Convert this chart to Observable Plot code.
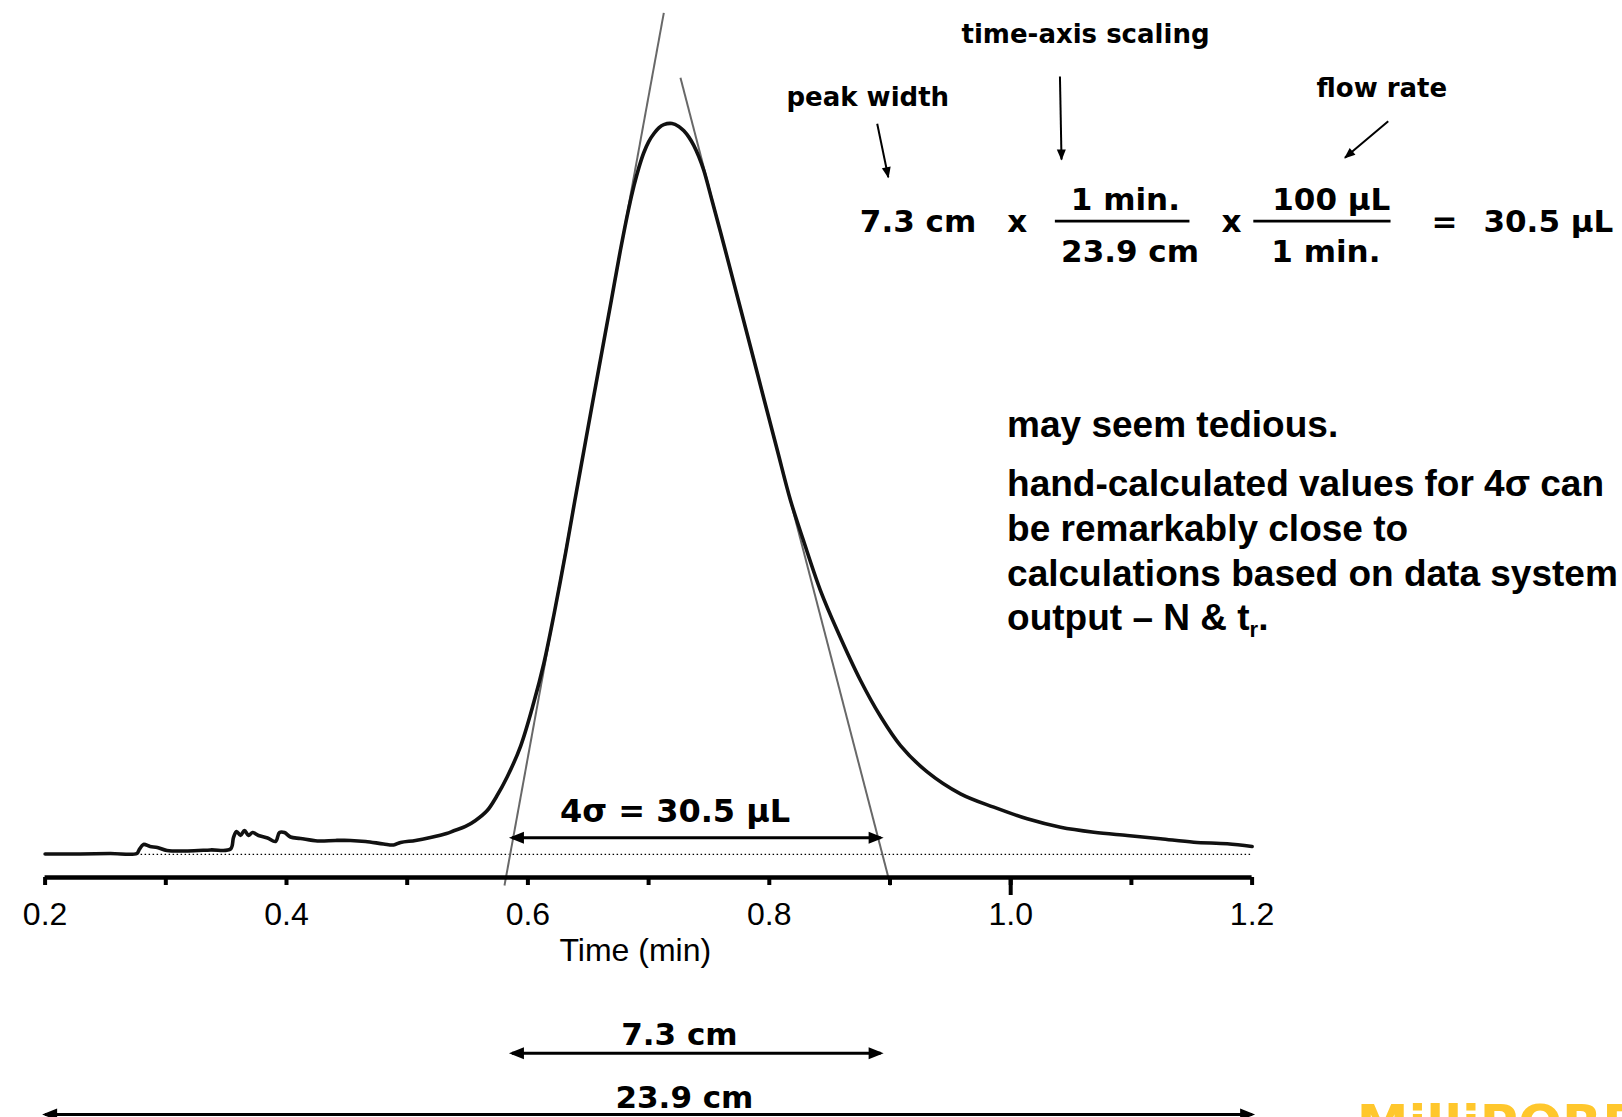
<!DOCTYPE html>
<html>
<head>
<meta charset="utf-8">
<script src="https://cdn.jsdelivr.net/npm/d3@7"></script>
<script src="https://cdn.jsdelivr.net/npm/@observablehq/plot@0.6"></script>
<style>
  html, body { margin: 0; padding: 0; background: #fff; overflow: hidden; }
  #chart svg { display: block; }
</style>
</head>
<body>
<div id="chart"></div>
<script>
// Chromatogram trace: time in minutes, detector response as % of the peak apex
const timeMin = [0.200,0.229,0.254,0.276,0.278,0.2815,0.287,0.293,0.301,0.318,0.337,0.3536,0.3561,0.3586,0.3619,0.3652,0.3685,0.3718,0.3768,0.3843,0.3909,0.3942,0.3983,0.4033,0.4116,0.4257,0.4406,0.4530,0.4655,0.4804,0.4887,0.4945,0.5069,0.5193,0.5326,0.5386,0.5483,0.5566,0.5663,0.5740,0.5829,0.5939,0.6049,0.6132,0.6216,0.6316,0.6389,0.6464,0.6539,0.6615,0.6691,0.6766,0.6833,0.6879,0.6920,0.6960,0.7000,0.7043,0.7085,0.7126,0.7194,0.7250,0.7292,0.7335,0.7374,0.7415,0.7457,0.7525,0.7636,0.7744,0.7852,0.7959,0.8067,0.8176,0.8283,0.8424,0.8563,0.8756,0.8921,0.9087,0.9308,0.9584,0.9860,1.0137,1.0413,1.0689,1.0965,1.1241,1.1517,1.1794,1.2000];
const response = [0.07,0.07,0.14,0.14,0.68,1.37,1.09,0.96,0.55,0.48,0.62,0.75,2.33,3.15,2.60,3.28,2.60,3.01,2.60,2.26,1.78,3.01,3.01,2.39,2.19,1.85,1.92,1.92,1.78,1.44,1.30,1.64,1.92,2.33,2.87,3.24,3.83,4.65,6.01,7.93,10.63,14.80,20.81,26.13,32.83,41.59,48.43,55.27,62.11,68.95,75.79,82.63,88.20,91.50,94.00,96.00,97.50,98.60,99.40,99.85,100.0,99.60,99.00,98.10,97.00,95.50,93.60,89.50,82.63,75.79,68.95,62.11,55.27,48.43,42.95,36.11,30.64,23.80,18.90,14.90,11.30,8.30,6.47,4.88,3.73,3.05,2.60,2.15,1.68,1.46,1.09];

// Time axis
const tickValues = [0.2, 0.3, 0.4, 0.5, 0.6, 0.7, 0.8, 0.9, 1.0, 1.1, 1.2];
const labeledTicks = ["0.2", "0.4", "0.6", "0.8", "1.0", "1.2"];
const majorTicks = [1.0];

// Tangent lines drawn on both flanks of the peak (time, response) end points
const tangentStart = [[0.7126, 115.14], [0.7264, 106.25]];
const tangentEnd   = [[0.5806, -4.24],  [0.9004, -4.24]];

// Peak-volume calculation
const peakWidthCm = 7.3;     // measured 4-sigma width on paper
const axisSpanCm = 23.9;     // paper length of the time axis
const axisSpanMin = 1.0;     // minutes covered by that length (0.2 to 1.2)
const flowRate = 100;        // µL per minute
const peakWidthMin = peakWidthCm / axisSpanCm * axisSpanMin;
const peakVolume = peakWidthCm * (1 / axisSpanCm) * flowRate;

const notes = [
  "may seem tedious.",
  "hand-calculated values for 4\u03c3 can",
  "be remarkably close to",
  "calculations based on data system",
  "output \u2013 N & tr."
];

// ---------------------------------------------------------------------------
const trace = timeMin.map((t, i) => ({t, v: response[i]}));
const tangents = tangentStart.map((s, i) => ({t1: s[0], v1: s[1], t2: tangentEnd[i][0], v2: tangentEnd[i][1]}));
const axisLevel = -3.15;            // the time axis sits just under the signal baseline
const widthStart = 0.5868;          // left end of the 4-sigma span on the time axis

// filled triangular arrowhead used by the dimension and callout arrows
function solidHead(length, halfWidth, inset) {
  return (color) => {
    const ns = "http://www.w3.org/2000/svg";
    const marker = document.createElementNS(ns, "marker");
    marker.setAttribute("viewBox", `${-length} ${-halfWidth} ${length} ${2 * halfWidth}`);
    marker.setAttribute("markerWidth", length);
    marker.setAttribute("markerHeight", 2 * halfWidth);
    marker.setAttribute("markerUnits", "userSpaceOnUse");
    marker.setAttribute("orient", "auto-start-reverse");
    marker.setAttribute("refX", -inset);
    marker.setAttribute("refY", 0);
    marker.setAttribute("overflow", "visible");
    const path = document.createElementNS(ns, "path");
    path.setAttribute("d", `M0,0L${-length},${-halfWidth}L${-length},${halfWidth}Z`);
    path.setAttribute("fill", color);
    path.setAttribute("stroke", "none");
    marker.appendChild(path);
    return marker;
  };
}
const bigHead = solidHead(15, 6, 3);
const smallHead = solidHead(11, 4.5, 1);

const verdanaLike = {fontFamily: "DejaVu Sans, Verdana, sans-serif", fontWeight: "bold"};
const arialBold = {fontFamily: "Liberation Sans, Arial, sans-serif", fontWeight: "bold"};

// dimension arrows under/over the peak
const dimensions = [
  {t1: widthStart, t2: widthStart + peakWidthMin, v: 2.28},
  {t1: widthStart, t2: widthStart + peakWidthMin, v: -27.18},
  {t1: 0.2, t2: 0.2 + axisSpanMin, v: -35.57}
];
const dimensionLabels = [
  {t: 0.7219, v: 4.42, label: `4\u03c3 = ${peakVolume.toFixed(1)} \u00b5L`, size: 32},
  {t: 0.7255, v: -26.13, label: `${peakWidthCm} cm`, size: 31},
  {t: 0.7297, v: -34.75, label: `${axisSpanCm} cm`, size: 31}
];

// equation across the top right
const equation = [
  {t: 0.9232, v: 85.09, label: `${peakWidthCm} cm`},
  {t: 1.0054, v: 85.09, label: "x"},
  {t: 1.0950, v: 88.17, label: "1 min."},
  {t: 1.0989, v: 81.05, label: `${axisSpanCm} cm`},
  {t: 1.1829, v: 85.09, label: "x"},
  {t: 1.2656, v: 88.17, label: `${flowRate} \u00b5L`},
  {t: 1.2611, v: 81.05, label: "1 min."},
  {t: 1.3594, v: 85.09, label: "="}
];
const equationResult = [{t: 1.3917, v: 85.09, label: `${peakVolume.toFixed(1)} \u00b5L`}];
const fractionBars = [
  {t1: 1.0366, t2: 1.1481, v: 86.64},
  {t1: 1.2010, t2: 1.3147, v: 86.64}
];
const callouts = [
  {t: 0.8816, v: 102.46, label: "peak width", t1: 0.8894, v1: 99.96, t2: 0.8986, v2: 92.65},
  {t: 1.0620, v: 111.08, label: "time-axis scaling", t1: 1.0408, v1: 106.43, t2: 1.0421, v2: 95.08},
  {t: 1.3075, v: 103.69, label: "flow rate", t1: 1.3128, v1: 100.31, t2: 1.2769, v2: 95.31}
];
const noteLevels = [57.18, 49.03, 42.88, 36.79, 30.70];
const noteLines = notes.map((label, i) => ({t: 0.9970, v: noteLevels[i], label}));

const chart = Plot.plot({
  width: 1622,
  height: 1117,
  marginLeft: 44.6,
  marginRight: 370.4,
  marginTop: 123,
  marginBottom: 240,
  style: {fontFamily: "Liberation Sans, Arial, sans-serif", background: "white", overflow: "visible"},
  x: {domain: [0.2, 1.2], label: null},
  y: {domain: [axisLevel, 100], axis: null, label: null},
  marks: [
    // signal baseline
    Plot.ruleY([0], {x1: 0.2, x2: 1.2, stroke: "#000", strokeWidth: 1.3, strokeDasharray: "1.5,2.5"}),
    // tangents
    Plot.link(tangents, {x1: "t1", y1: "v1", x2: "t2", y2: "v2", stroke: "#686868", strokeWidth: 2}),
    // chromatogram
    Plot.line(trace, {x: "t", y: "v", stroke: "#111", strokeWidth: 3.6, curve: "catmull-rom"}),
    // time axis
    Plot.ruleY([axisLevel], {stroke: "#000", strokeWidth: 4.5}),
    Plot.axisX({ticks: tickValues, tickSize: 8, strokeWidth: 4, tickPadding: 17, fontSize: 32,
      tickFormat: d => labeledTicks.includes(d.toFixed(1)) ? d.toFixed(1) : "", label: null}),
    Plot.axisX({ticks: majorTicks, tickSize: 18, strokeWidth: 4, tickFormat: () => "", label: null}),
    Plot.text(["Time (min)"], {x: 0.689, y: -13.21, text: d => d, fontSize: 32, lineAnchor: "middle"}),
    // dimension arrows
    Plot.link(dimensions, {x1: "t1", x2: "t2", y1: "v", y2: "v", stroke: "#000", strokeWidth: 3,
      markerStart: bigHead, markerEnd: bigHead}),
    Plot.text(dimensionLabels, {x: "t", y: "v", text: "label", fontSize: "size", ...verdanaLike, lineAnchor: "bottom"}),
    // equation
    Plot.text(equation, {x: "t", y: "v", text: "label", textAnchor: "middle", fontSize: 31, ...verdanaLike, lineAnchor: "bottom"}),
    Plot.text(equationResult, {x: "t", y: "v", text: "label", textAnchor: "start", fontSize: 31, ...verdanaLike, lineAnchor: "bottom"}),
    Plot.link(fractionBars, {x1: "t1", x2: "t2", y1: "v", y2: "v", stroke: "#000", strokeWidth: 2.6}),
    Plot.text(callouts, {x: "t", y: "v", text: "label", fontSize: 26, ...verdanaLike, lineAnchor: "bottom"}),
    Plot.link(callouts, {x1: "t1", y1: "v1", x2: "t2", y2: "v2", stroke: "#000", strokeWidth: 2, markerEnd: smallHead}),
    // remarks
    Plot.text(noteLines, {x: "t", y: "v", text: "label", textAnchor: "start", fontSize: 37, ...arialBold, lineAnchor: "bottom"}),
    // corner logo
    Plot.text(["MilliPORE"], {x: 1.2867, y: -34.34, text: d => d, textAnchor: "start", lineAnchor: "top",
      fontSize: 52, fill: "#FFC72C", fontFamily: "DejaVu Sans", fontWeight: "bold"})
  ]
});

// retention time subscript in the last remark line
d3.select(chart).selectAll("text")
  .filter(function() { return this.textContent === notes[4]; })
  .each(function() {
    const el = d3.select(this);
    el.text("output \u2013 N & t");
    el.append("tspan").attr("dy", 7).attr("font-size", 22).text("r");
    el.append("tspan").attr("dy", -7).text(".");
  });

document.getElementById("chart").appendChild(chart);
</script>
</body>
</html>
